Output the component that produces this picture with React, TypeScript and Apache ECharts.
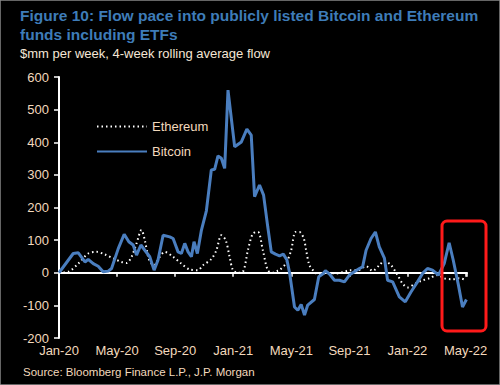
import React, { useEffect, useRef } from "react";
import * as echarts from "echarts";

const monthLabels = ["Jan-20", "May-20", "Sep-20", "Jan-21", "May-21", "Sep-21", "Jan-22", "May-22"];
const yTicks = [-200, -100, 0, 100, 200, 300, 400, 500, 600];

// x = months since Jan-20
const btcMonths = [0, 0.98, 1.33, 1.79, 2.01, 2.36, 2.7, 3.04, 3.39, 3.62, 4.08, 4.49, 4.81, 5.11, 5.34, 5.64, 5.91, 6.25, 6.55, 6.82, 7.17, 7.63, 7.86, 8.2, 8.43, 8.66, 8.89, 9.12, 9.3, 9.53, 9.81, 10.15, 10.49, 10.72, 10.95, 11.18, 11.41, 11.64, 11.8, 12.1, 12.56, 12.94, 13.24, 13.47, 13.81, 14.09, 14.38, 14.62, 14.91, 15.19, 15.45, 15.7, 15.88, 16.22, 16.45, 16.68, 16.91, 17.13, 17.59, 17.89, 18.16, 18.35, 18.63, 18.97, 19.31, 19.66, 20.0, 20.34, 20.69, 20.91, 21.15, 21.49, 21.79, 22.06, 22.41, 22.63, 22.98, 23.44, 23.85, 24.24, 24.69, 25.04, 25.38, 25.72, 26.14, 26.53, 26.87, 27.15, 27.51, 27.79, 28.06];
const btcValues = [0, 59, 61, 33, 41, 28, 20, 3, 5, 13, 74, 118, 95, 85, 54, 85, 69, 49, 8, 39, 115, 110, 105, 64, 59, 90, 64, 49, 95, 59, 131, 190, 315, 317, 358, 351, 320, 560, 499, 386, 401, 440, 422, 233, 269, 238, 140, 64, 57, 52, 57, 39, 0, -105, -115, -97, -130, -99, -82, -12, -4, 6, -4, -23, -23, -28, -7, 3, 13, 18, 69, 105, 125, 79, 45, -23, -28, -74, -89, -59, -28, -2, 13, 8, -7, 28, 92, 39, -38, -105, -82];

const ethMonths = [0, 0.64, 1.33, 2.01, 2.59, 3.16, 3.73, 4.31, 4.65, 5.0, 5.34, 5.68, 5.91, 6.21, 6.55, 6.94, 7.28, 7.86, 8.43, 9.0, 9.57, 9.92, 10.49, 10.84, 11.18, 11.48, 11.75, 11.98, 12.32, 12.67, 13.01, 13.35, 13.7, 14.04, 14.38, 14.73, 15.07, 15.19, 15.65, 15.99, 16.29, 16.56, 16.86, 17.02, 17.25, 17.59, 17.94, 18.4, 19.08, 19.66, 20.0, 20.57, 21.15, 21.6, 22.06, 22.41, 22.87, 23.32, 23.66, 24.01, 24.47, 24.93, 25.5, 26.07, 26.53, 27.1, 27.56, 28.01];
const ethValues = [0, 3, 28, 59, 64, 56, 44, 33, 30, 49, 90, 131, 100, 39, 23, 49, 64, 49, 28, 10, 8, 23, 42, 69, 115, 100, 49, 8, 0, 3, 69, 120, 125, 69, 8, 0, 6, 8, 30, 69, 125, 125, 105, 69, 23, 3, -7, 0, -2, 3, 8, 8, 20, 6, 23, 36, 23, -7, -33, -45, -35, -25, -17, -7, -17, -20, -17, -22];

const FONT = "'Liberation Sans', Arial, sans-serif";
const TAN = "#f3d9bd";

export default function App() {
  const ref = useRef<HTMLDivElement>(null);
  useEffect(() => {
    if (!ref.current) return;
    const chart = echarts.init(ref.current, undefined, { renderer: "svg" });
    const btc = btcMonths.map((m, i) => [m, btcValues[i]]);
    const eth = ethMonths.map((m, i) => [m, ethValues[i]]);
    const xLabel = (v: number) => (Math.abs(v % 4) < 1e-6 ? monthLabels[Math.round(v / 4)] : "");
    chart.setOption({
      animation: false,
      backgroundColor: "#000000",
      textStyle: { fontFamily: FONT },
      title: [
        {
          text: "Figure 10: Flow pace into publicly listed Bitcoin and Ethereum\nfunds including ETFs",
          left: 15,
          top: 1,
          textStyle: { color: "#3e7cb8", fontSize: 15.5, fontWeight: "bold", fontFamily: FONT, lineHeight: 19 },
        },
        {
          text: "$mm per week, 4-week rolling average flow",
          left: 15,
          top: 42,
          textStyle: { color: "#f5e6d6", fontSize: 13, fontWeight: "normal", fontFamily: FONT },
        },
        {
          text: "Source: Bloomberg Finance L.P., J.P. Morgan",
          left: 18,
          top: 361,
          textStyle: { color: TAN, fontSize: 11.5, fontWeight: "normal", fontFamily: FONT },
        },
      ],
      legend: {
        orient: "vertical",
        left: 91,
        top: 115,
        itemWidth: 50,
        itemHeight: 10,
        itemGap: 12,
        itemStyle: { opacity: 0 },
        textStyle: { color: TAN, fontSize: 13, fontFamily: FONT },
        data: ["Ethereum", "Bitcoin"],
      },
      grid: { left: 59, right: 33, top: 77, bottom: 47, containLabel: false },
      xAxis: [
        {
          type: "value",
          min: 0,
          max: 28.1,
          interval: 4,
          position: "bottom",
          axisLine: { show: false, onZero: false },
          axisTick: { show: false },
          splitLine: { show: false },
          axisLabel: { color: TAN, fontSize: 13, fontFamily: FONT, margin: 6, formatter: xLabel },
        },
        {
          type: "value",
          min: 0,
          max: 28.1,
          interval: 4,
          position: "bottom",
          axisLine: { show: true, onZero: true, lineStyle: { color: "#ffffff", width: 2 } },
          axisTick: { show: true, inside: false, length: 4, lineStyle: { color: "#ffffff", width: 1.5 } },
          splitLine: { show: false },
          axisLabel: { show: false },
        },
      ],
      yAxis: {
        type: "value",
        min: yTicks[0],
        max: yTicks[yTicks.length - 1],
        interval: 100,
        axisLine: { show: true, lineStyle: { color: "#ffffff", width: 2 } },
        axisTick: { show: true, length: 5, lineStyle: { color: "#ffffff", width: 1.5 } },
        splitLine: { show: false },
        axisLabel: { color: TAN, fontSize: 13, fontFamily: FONT, margin: 10 },
      },
      series: [
        {
          name: "Ethereum",
          type: "line",
          xAxisIndex: 0,
          data: eth,
          showSymbol: false,
          symbol: "none",
          smooth: 0.3,
          lineStyle: { color: "#ffffff", width: 2, type: [1.5, 3] },
          itemStyle: { color: "#ffffff" },
          z: 3,
        },
        {
          name: "Bitcoin",
          type: "line",
          xAxisIndex: 0,
          data: btc,
          showSymbol: false,
          symbol: "none",
          lineStyle: { color: "#4a7ebf", width: 3 },
          itemStyle: { color: "#4a7ebf" },
          z: 4,
        },
      ],
      graphic: [
        {
          type: "rect",
          shape: { x: 442, y: 221, width: 44, height: 110, r: 5 },
          style: { fill: "none", stroke: "#ff1a1a", lineWidth: 3 },
          z: 10,
        },
        {
          type: "rect",
          shape: { x: 0, y: 0, width: 500, height: 385 },
          style: { fill: "none", stroke: "#888888", lineWidth: 1.5 },
          z: 10,
        },
      ],
    });
    return () => chart.dispose();
  }, []);
  return <div ref={ref} style={{ width: 500, height: 385, position: "fixed", left: 0, top: 0 }} />;
}
